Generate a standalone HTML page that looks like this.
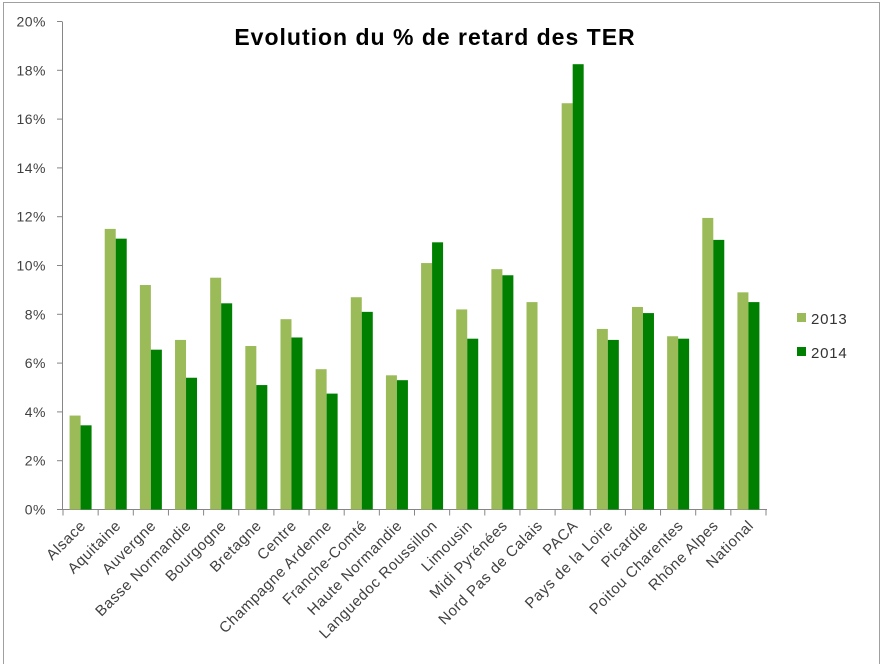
<!DOCTYPE html>
<html><head><meta charset="utf-8"><style>
html,body{margin:0;padding:0;background:#fff;}
svg{display:block;font-family:"Liberation Sans",sans-serif;}
</style></head><body>
<svg width="884" height="664" xmlns="http://www.w3.org/2000/svg">
<rect x="3.5" y="2.5" width="876" height="670" fill="#fff" stroke="#a0a0a0"/>
<text x="435" y="45" font-size="23" font-weight="bold" letter-spacing="1" text-anchor="middle" fill="#000">Evolution  du % de retard  des TER</text>
<g id="axes" stroke="#868686" stroke-width="1"></g>
<g id="bars"></g>
<g id="labels" fill="#404040"></g>
<rect x="797" y="313" width="9" height="9" fill="#9BBB59"/>
<text x="811" y="324" font-size="15" letter-spacing="0.8" fill="#333">2013</text>
<rect x="797" y="347" width="9" height="9" fill="#008000"/>
<text x="811" y="358" font-size="15" letter-spacing="0.8" fill="#333">2014</text>
<script>
var ns="http://www.w3.org/2000/svg";
function el(p,t,a,txt){var e=document.createElementNS(ns,t);for(var k in a)e.setAttribute(k,a[k]);if(txt)e.textContent=txt;document.getElementById(p).appendChild(e);}
var y0=509.5,pp=24.4,x0=63,w=35.15;
el("axes","line",{x1:62.5,y1:22,x2:62.5,y2:510});
el("axes","line",{x1:57,y1:y0,x2:767,y2:y0});
for(var i=0;i<=10;i++){var y=y0-i*2*pp;el("axes","line",{x1:57,y1:y,x2:62.5,y2:y});
el("labels","text",{x:46,y:y+5,"text-anchor":"end","font-size":14,"letter-spacing":0.5},(2*i)+"%");}
var d=[["Alsace",3.85,3.45],["Aquitaine",11.5,11.1],["Auvergne",9.2,6.55],["Basse Normandie",6.95,5.4],["Bourgogne",9.5,8.45],["Bretagne",6.7,5.1],["Centre",7.8,7.05],["Champagne Ardenne",5.75,4.75],["Franche-Comté",8.7,8.1],["Haute Normandie",5.5,5.3],["Languedoc Roussillon",10.1,10.95],["Limousin",8.2,7.0],["Midi Pyrénées",9.85,9.6],["Nord Pas de Calais",8.5,0],["PACA",16.65,18.25],["Pays de la Loire",7.4,6.95],["Picardie",8.3,8.05],["Poitou Charentes",7.1,7.0],["Rhône Alpes",11.95,11.05],["National",8.9,8.5]];
for(var i=0;i<=20;i++){var x=x0+i*w;el("axes","line",{x1:x,y1:y0,x2:x,y2:y0+6});}
d.forEach(function(r,i){var c=x0+(i+0.5)*w;
var h1=r[1]*pp,h2=r[2]*pp;
el("bars","rect",{x:c-11,y:y0-h1,width:11,height:h1,fill:"#9BBB59"});
if(h2>0)el("bars","rect",{x:c,y:y0-h2,width:11,height:h2,fill:"#008000"});
el("labels","text",{x:0,y:0,"text-anchor":"end","font-size":15,"letter-spacing":0.6,transform:"translate("+(c+6)+","+(y0+17)+") rotate(-45)"},r[0]);});
</script>
</svg>
</body></html>
